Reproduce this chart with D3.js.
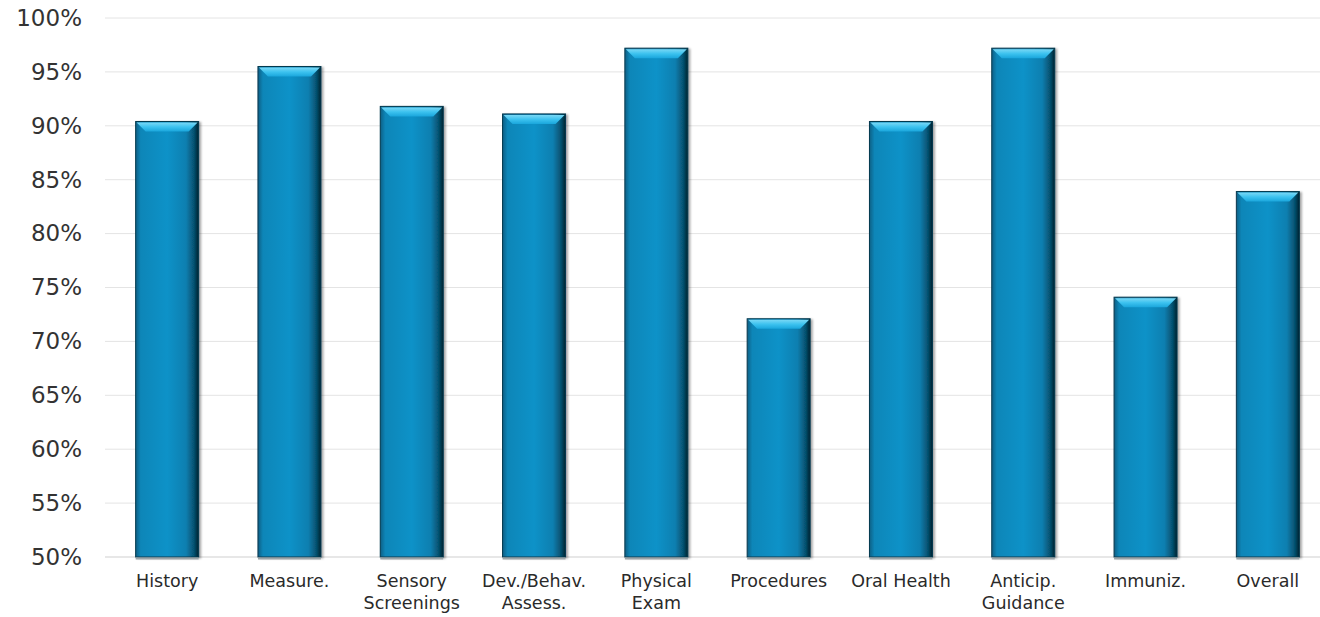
<!DOCTYPE html>
<html><head><meta charset="utf-8">
<script src="https://cdn.jsdelivr.net/npm/d3@7"></script>
<style>body{margin:0;background:#fff;}svg{display:block;}</style>
</head><body>
<svg id="c" width="1320" height="617"></svg>
<script>
const categories = [["History"],["Measure."],["Sensory","Screenings"],["Dev./Behav.","Assess."],["Physical","Exam"],["Procedures"],["Oral Health"],["Anticip.","Guidance"],["Immuniz."],["Overall"]];
const values = [90.4, 95.5, 91.8, 91.1, 97.2, 72.1, 90.4, 97.2, 74.1, 83.9];
const yTicks = [50,55,60,65,70,75,80,85,90,95,100];

const svg = d3.select("#c");
const x = d3.scaleBand().domain(d3.range(categories.length)).range([106, 1329]).paddingInner(0.485).paddingOuter(0.2425);
const y = d3.scaleLinear().domain([50,100]).range([557,18]);

const defs = svg.append("defs");
const g1 = defs.append("linearGradient").attr("id","body").attr("x1","0").attr("x2","1").attr("y1","0").attr("y2","0");
[[0,"#0b5f85"],[0.08,"#0c86b8"],[0.5,"#0e92c8"],[0.8,"#0a7fb0"],[0.93,"#06506e"],[1,"#03222f"]].forEach(s=>g1.append("stop").attr("offset",s[0]).attr("stop-color",s[1]));
const g2 = defs.append("linearGradient").attr("id","bevel").attr("x1","0").attr("x2","0").attr("y1","0").attr("y2","1");
[[0,"#7ad8f5"],[0.5,"#3cc2ef"],[1,"#1aa6dc"]].forEach(s=>g2.append("stop").attr("offset",s[0]).attr("stop-color",s[1]));
const f = defs.append("filter").attr("id","sh").attr("x","-20%").attr("y","-10%").attr("width","140%").attr("height","130%");
f.append("feDropShadow").attr("dx",2).attr("dy",1).attr("stdDeviation",1.2).attr("flood-color","#000").attr("flood-opacity",0.35);

// grid
svg.append("g").selectAll("line").data(yTicks).join("line")
  .attr("x1",105).attr("x2",1320).attr("y1",d=>y(d)).attr("y2",d=>y(d))
  .attr("stroke",d=>d===50?"#cfcfcf":"#e4e4e4").attr("stroke-width",1);

// y axis labels
const yAxis = d3.axisLeft(y).tickValues(yTicks).tickFormat(d=>d+"%").tickSize(0).tickPadding(0);
const ya = svg.append("g").attr("transform","translate(82,0)").call(yAxis);
ya.select(".domain").remove();
ya.selectAll("text").attr("font-family","'DejaVu Sans', Verdana, sans-serif").attr("font-size",23).attr("fill","#333");

// bars
const bars = svg.append("g").selectAll("g").data(values).join("g");
bars.append("rect").attr("x",(d,i)=>x(i)).attr("y",d=>y(d)).attr("width",x.bandwidth()).attr("height",d=>y(50)-y(d))
  .attr("fill","url(#body)").attr("stroke","#07384d").attr("stroke-width",1).attr("filter","url(#sh)");
bars.append("path").attr("d",(d,i)=>{const x0=x(i)+1,x1=x(i)+x.bandwidth()-1,t=y(d)+1,h=9;
  return `M${x0},${t}L${x1},${t}L${x1-9},${t+h}L${x0+9},${t+h}Z`;}).attr("fill","url(#bevel)");
bars.append("line").attr("x1",(d,i)=>x(i)).attr("x2",(d,i)=>x(i)+x.bandwidth()).attr("y1",y(50)+1.5).attr("y2",y(50)+1.5).attr("stroke","#9aa4a8").attr("stroke-width",2);

// x labels
const xl = svg.append("g").selectAll("text").data(categories).join("text")
  .attr("x",(d,i)=>x(i)+x.bandwidth()/2).attr("y",587).attr("text-anchor","middle")
  .attr("font-family","'DejaVu Sans', Verdana, sans-serif").attr("font-size",17.5).attr("fill","#2a2a2a");
xl.selectAll("tspan").data(d=>d).join("tspan").attr("x",function(){return this.parentNode.getAttribute("x");})
  .attr("dy",(d,i)=>i===0?0:22).text(d=>d);
</script>
</body></html>
